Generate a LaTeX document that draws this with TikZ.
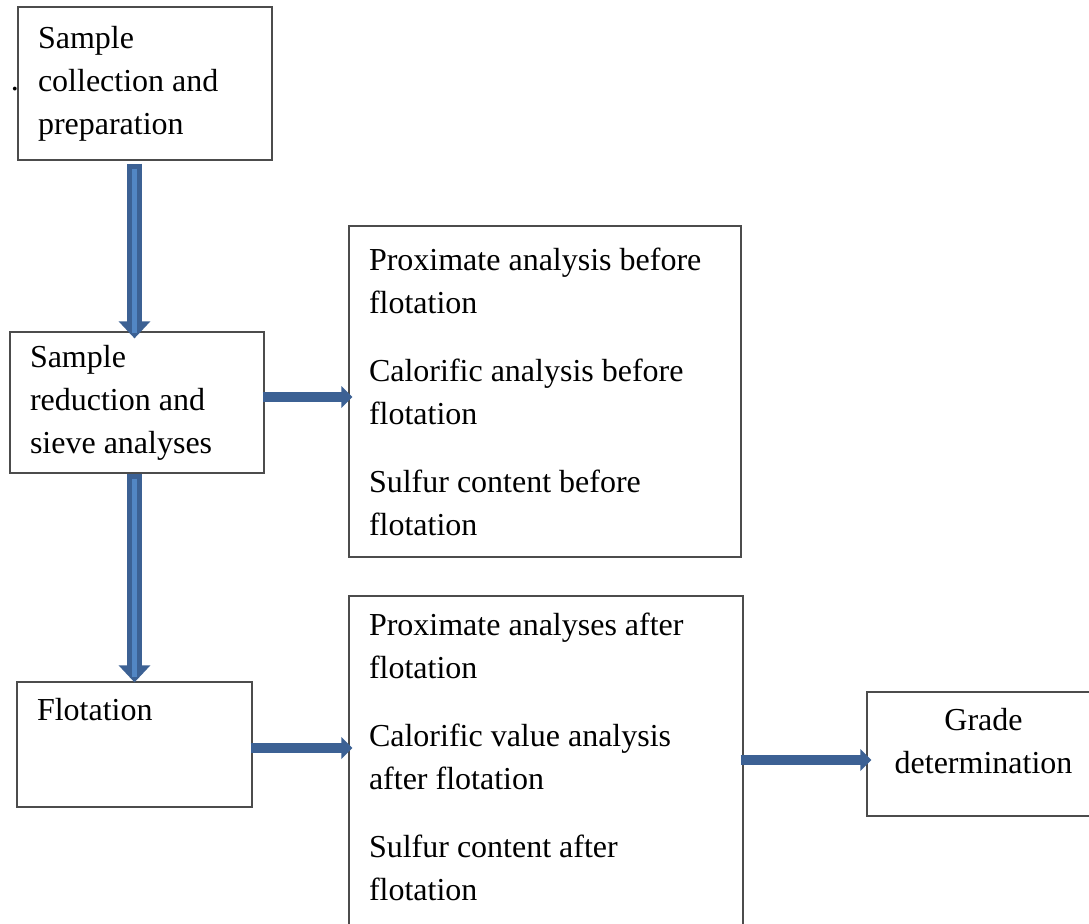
\documentclass[tikz,border=0pt]{standalone}
\usepackage{fontspec}
\setmainfont{Liberation Serif}
\usetikzlibrary{arrows.meta,positioning,calc}
\definecolor{flowdark}{RGB}{60,97,148}
\definecolor{flowlight}{RGB}{82,134,196}

\begin{document}
\begin{tikzpicture}[x=0.75pt,y=-0.75pt,font=\fontsize{24pt}{32.25pt}\selectfont,
    stepbox/.style={rectangle, draw=black!70, line width=0.9pt, align=flush left, inner xsep=15pt, inner ysep=0pt},
    vflow/.style={flowdark, line width=11.25pt, -{Triangle[length=12.75pt,width=23pt]}},
    vstripe/.style={flowlight, line width=4pt},
    hflow/.style={flowdark, line width=7.5pt, -{Triangle[length=8.25pt,width=16pt]}}]

      \useasboundingbox (0,0) rectangle (1089,924);

      \node [stepbox, text width=160.5pt, minimum height=114.75pt] (prep) at (145,83.5) {Sample\\collection and\\preparation};
      \node [anchor=base, inner sep=0pt] (dot) at (15,91) {.};

      \node [stepbox, text width=160.5pt, minimum height=105.75pt] (reduce) at (137,402.5) {Sample\\reduction and\\sieve analyses};

      \node [stepbox, text width=264pt, minimum height=248.25pt] (before) at (545,391.5) {Proximate analysis before\\flotation\\[18.75pt]Calorific analysis before\\flotation\\[18.75pt]Sulfur content before\\flotation};

      \node [stepbox, text width=146.25pt, minimum height=93.75pt, text height=16.5pt, text depth=52pt] (flot) at (134.5,744.5) {Flotation};

      \node [stepbox, text width=265.5pt, minimum height=255pt, text height=16.5pt, text depth=213pt] (after) at (546,766) {Proximate analyses after\\flotation\\[18.75pt]Calorific value analysis\\after flotation\\[18.75pt]Sulfur content after\\flotation};

      \node [stepbox, align=flush center, text width=144.75pt, minimum height=93pt, text height=16.5pt, text depth=52.5pt] (grade) at (983.5,754) {Grade\\determination};

      % block arrows
      \draw [vflow] ($(prep.south -| flot)+(0,3)$) -- ($(reduce.north -| flot)+(0,7)$);
      \draw [vstripe] ($(prep.south -| flot)+(0,8)$) -- ($(reduce.north -| flot)+(0,2)$);
      \draw [vflow] (reduce.south -| flot) -- ($(flot.north)+(0,1)$);
      \draw [vstripe] ($(reduce.south -| flot)+(0,5)$) -- ($(flot.north)+(0,-4)$);

      \draw [hflow] ($(reduce.east)+(-2,-5.5)$) -- ($(reduce.east -| before.west)+(4,-5.5)$);
      \draw [hflow] ($(flot.east)+(-2,3.5)$) -- ($(flot.east -| after.west)+(4,3.5)$);
      \draw [hflow] ($(grade.west -| after.east)+(-3,6)$) -- ($(grade.west)+(5,6)$);

\end{tikzpicture}
\end{document}
